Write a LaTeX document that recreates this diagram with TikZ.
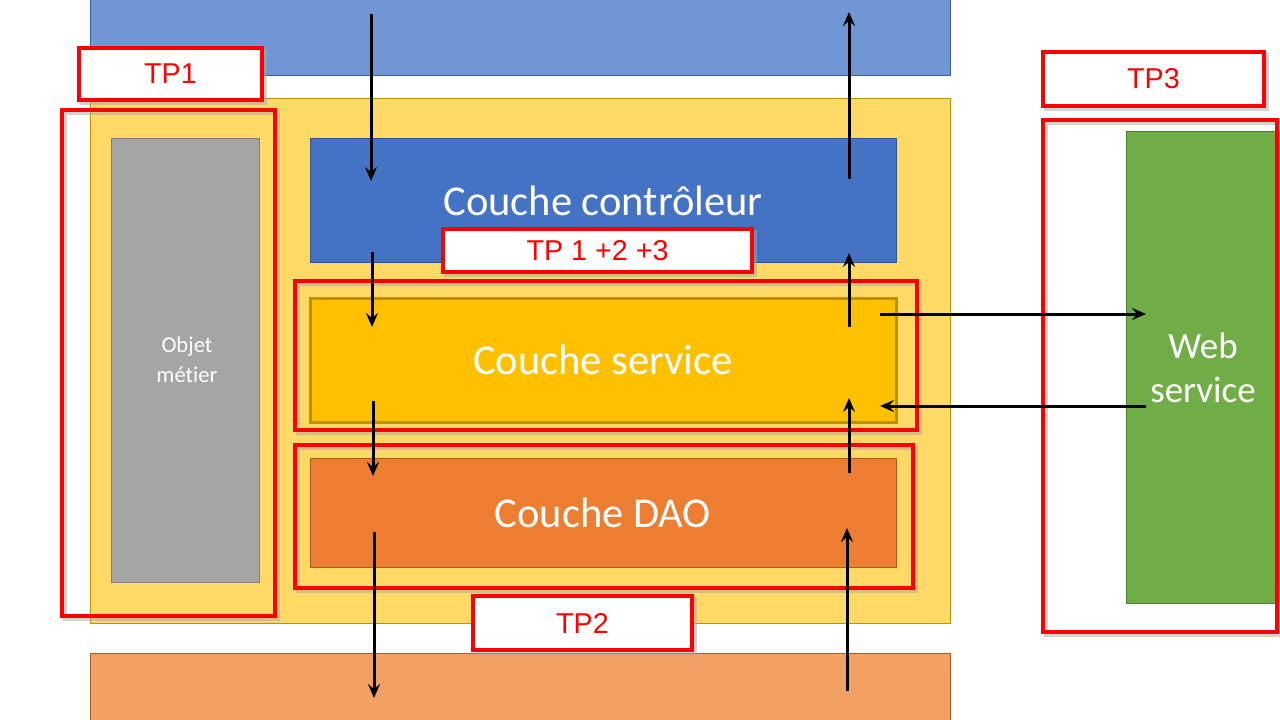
\documentclass[tikz,border=0pt]{standalone}
\usepackage{fontspec}
\setmainfont{Carlito}[Ligatures=CommonOff]
\newfontfamily\arialf{Liberation Sans}
\usetikzlibrary{arrows.meta}
\definecolor{topblue}{HTML}{7096D4}
\definecolor{topblueB}{HTML}{3A5D9C}
\definecolor{yel}{HTML}{FFD966}
\definecolor{yelB}{HTML}{BF9000}
\definecolor{gry}{HTML}{A5A5A5}
\definecolor{gryB}{HTML}{7F7F7F}
\definecolor{ctrl}{HTML}{4472C4}
\definecolor{ctrlB}{HTML}{2F5597}
\definecolor{serv}{HTML}{FFC000}
\definecolor{servB}{HTML}{BF9000}
\definecolor{dao}{HTML}{ED7D31}
\definecolor{daoB}{HTML}{AE5A21}
\definecolor{botor}{HTML}{F2A064}
\definecolor{grn}{HTML}{70AD47}
\definecolor{grnB}{HTML}{507E32}
\definecolor{redb}{HTML}{FF0000}
\begin{document}
\begin{tikzpicture}[x=1pt,y=-1pt,
  box/.style={anchor=north west,inner sep=0pt,outer sep=0pt,draw,line width=1pt},
  redframe/.style={anchor=north west,inner sep=0pt,outer sep=0pt,draw=redb,line width=4pt},
  shadowframe/.style={anchor=north west,inner sep=0pt,outer sep=0pt,draw=black!35,line width=4pt,opacity=0.5},
  tplabel/.style={font=\arialf\fontsize{28.7}{32}\selectfont,text=redb},
  layertext/.style={font=\fontsize{42.5}{50}\selectfont,text=white},
  flow/.style={line width=3pt,-{Stealth[length=14pt,width=12pt,inset=5pt]}}
]
\useasboundingbox (0,0) rectangle (1280,720);
\fill[white] (0,0) rectangle (1280,720);
% background bands
\node[box,draw=topblueB,fill=topblue,minimum width=860pt,minimum height=77pt] (topband) at (90,-2) {};
\node[box,draw=yelB,fill=yel,minimum width=860pt,minimum height=525pt] (yellowbg) at (90,98) {};
\node[box,draw=daoB,fill=botor,minimum width=860pt,minimum height=70pt] (botband) at (90,653) {};
% layers
\node[box,draw=gryB,fill=gry,minimum width=148pt,minimum height=444pt] (objet) at (111,138) {};
\node[font=\fontsize{22.6}{30}\selectfont,text=white,align=center] (objettxt) at (187,360) {Objet\\métier};
\node[box,draw=ctrlB,fill=ctrl,minimum width=586pt,minimum height=124pt] (ctrlbox) at (310,138) {};
\node[layertext] (ctrltxt) at (603,201) {Couche contrôleur};
\node[box,draw=servB,fill=serv,line width=3pt,minimum width=586pt,minimum height=124pt] (servbox) at (310,298) {};
\node[layertext] (servtxt) at (603,360) {Couche service};
\node[box,draw=daoB,fill=dao,minimum width=586pt,minimum height=109pt] (daobox) at (310,458) {};
\node[layertext] (daotxt) at (603,513) {Couche DAO};
\node[box,draw=grnB,fill=grn,minimum width=160pt,minimum height=472pt] (webbox) at (1126,131) {};
\node[layertext,font=\fontsize{37}{44}\selectfont,align=center] (webtxt) at (1203,368) {Web\\service};
% shadows of red frames
\foreach \x/\y/\w/\h in {79/48/183/52, 62/110/213/506, 1043/52/221/54, 1043/120/234/512, 443/229/309/43, 295/281/622/149, 295/445/618/143, 473/596/219/54}
  \node[shadowframe,minimum width=\w pt,minimum height=\h pt] at (\x+3,\y+3) {};
% red frames
\node[redframe,minimum width=213pt,minimum height=506pt] (tp1frame) at (62,110) {};
\node[redframe,minimum width=234pt,minimum height=512pt] (tp3frame) at (1043,120) {};
\node[redframe,minimum width=622pt,minimum height=149pt] (servframe) at (295,281) {};
\node[redframe,minimum width=618pt,minimum height=143pt] (daoframe) at (295,445) {};
% labels
\node[redframe,fill=white,minimum width=183pt,minimum height=52pt] (tp1lab) at (79,48) {};
\node[tplabel] at (tp1lab.center) {TP1};
\node[redframe,fill=white,minimum width=221pt,minimum height=54pt] (tp3lab) at (1043,52) {};
\node[tplabel] at (tp3lab.center) {TP3};
\node[redframe,fill=white,minimum width=309pt,minimum height=43pt] (tp123lab) at (443,229) {};
\node[tplabel] at (tp123lab.center) {TP 1 +2 +3};
\node[redframe,fill=white,minimum width=219pt,minimum height=54pt] (tp2lab) at (473,596) {};
\node[tplabel] at (tp2lab.center) {TP2};
% arrow endpoints
\coordinate (d1s) at (371,14);  \coordinate (d1e) at (371,181);
\coordinate (d2s) at (372,252); \coordinate (d2e) at (372,327);
\coordinate (d3s) at (373,401); \coordinate (d3e) at (373,476);
\coordinate (d4s) at (374,532); \coordinate (d4e) at (374,698);
\coordinate (u1s) at (849,179); \coordinate (u1e) at (849,12);
\coordinate (u2s) at (849,327); \coordinate (u2e) at (849,253);
\coordinate (u3s) at (849,473); \coordinate (u3e) at (849,398);
\coordinate (u4s) at (847,691); \coordinate (u4e) at (847,528);
\coordinate (h1s) at (880,314); \coordinate (h1e) at (1146,314);
\coordinate (h2s) at (1146,406); \coordinate (h2e) at (880,406);
\foreach \a in {d1,d2,d3,d4,u1,u2,u3,u4,h1,h2}
  \draw[flow] (\a s) -- (\a e);
\end{tikzpicture}
\end{document}
